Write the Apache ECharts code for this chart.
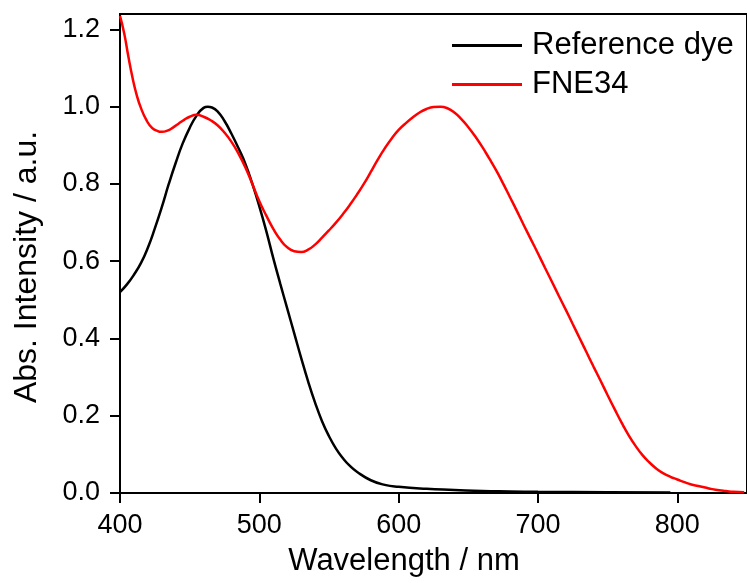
<!DOCTYPE html>
<html>
<head>
<meta charset="utf-8">
<script src="https://cdn.jsdelivr.net/npm/echarts@6/dist/echarts.min.js"></script>
<style>
html,body{margin:0;padding:0;background:#fff;}
#chart{width:747px;height:583px;}
</style>
</head>
<body>
<div id="chart"></div>
<script>
// Wavelength (nm) and normalized absorbance values
const refWavelength = [400,405,410,415,420,425,430,435,440,445,450,455,460,463,466,470,475,480,485,490,495,500,505,510,515,520,525,530,535,540,545,550,555,560,565,570,580,590,600,620,640,660,680,700,750,795];
const refAbs =        [0.52,0.54,0.565,0.595,0.635,0.685,0.74,0.80,0.855,0.905,0.945,0.977,0.997,1.0,0.998,0.988,0.963,0.93,0.893,0.852,0.80,0.742,0.678,0.608,0.542,0.478,0.414,0.35,0.289,0.234,0.186,0.147,0.115,0.09,0.07,0.055,0.033,0.021,0.016,0.011,0.008,0.005,0.004,0.003,0.002,0.001];

const fneWavelength = [400,403,406,409,412,415,419,423,427,430,434,438,442,446,450,455,460,465,470,475,480,485,490,495,500,505,510,515,520,525,530,535,540,545,550,555,560,565,570,575,580,585,590,595,600,605,610,615,620,625,630,635,640,645,650,655,660,665,670,675,680,685,690,695,700,705,710,715,720,725,730,735,740,745,750,755,760,765,770,775,780,785,790,795,800,805,810,815,820,825,830,835,840,848];
const fneAbs =        [1.235,1.19,1.13,1.075,1.03,0.997,0.965,0.945,0.937,0.935,0.938,0.946,0.956,0.966,0.974,0.979,0.974,0.965,0.952,0.933,0.909,0.879,0.843,0.80,0.755,0.718,0.684,0.656,0.636,0.626,0.624,0.63,0.643,0.661,0.68,0.70,0.722,0.746,0.772,0.80,0.831,0.863,0.892,0.918,0.94,0.957,0.972,0.985,0.994,0.999,1.0,0.996,0.985,0.968,0.947,0.923,0.896,0.866,0.835,0.801,0.765,0.729,0.692,0.656,0.62,0.583,0.547,0.51,0.474,0.437,0.40,0.363,0.326,0.29,0.253,0.217,0.182,0.15,0.122,0.098,0.079,0.063,0.051,0.042,0.035,0.028,0.022,0.018,0.014,0.01,0.007,0.005,0.003,0.002];

const xTicks = [400,500,600,700,800];
const yTicks = [0,0.2,0.4,0.6,0.8,1.0,1.2];
const seriesNames = ['Reference dye','FNE34'];

const FONT = '"Liberation Sans", Arial, sans-serif';
const chart = echarts.init(document.getElementById('chart'), null, {renderer:'canvas'});

const zip = (xs, ys) => xs.map((x,i)=>[x, ys[i]]);

chart.setOption({
  animation: false,
  backgroundColor: '#fff',
  grid: {left:120, right:-3, top:14, bottom:90, show:true, borderColor:'#000', borderWidth:2, backgroundColor:'transparent'},
  legend: {
    orient:'vertical', left:452, top:30, padding:0,
    icon:'rect', itemWidth:70, itemHeight:3, itemGap:8,
    textStyle:{fontFamily:FONT, fontSize:31, color:'#000', lineHeight:30, padding:[0,0,0,5]},
    data: seriesNames
  },
  xAxis: {
    type:'value', min:400, max:850,
    axisLine:{show:true, lineStyle:{color:'#000', width:2}},
    axisTick:{show:true, inside:false, length:10, lineStyle:{color:'#000', width:2}, customValues:xTicks},
    axisLabel:{fontFamily:FONT, fontSize:27, color:'#000', margin:19, customValues:xTicks},
    splitLine:{show:false}
  },
  yAxis: {
    type:'value', min:0, max:1.24,
    axisLine:{show:true, lineStyle:{color:'#000', width:2}},
    axisTick:{show:true, inside:false, length:10, lineStyle:{color:'#000', width:2}, customValues:yTicks},
    axisLabel:{fontFamily:FONT, fontSize:27, color:'#000', margin:20, customValues:yTicks, formatter:(v)=>v.toFixed(1)},
    splitLine:{show:false}
  },
  graphic: [
    {type:'text', x:404, y:561, style:{text:'Wavelength / nm', font:'31px "Liberation Sans", Arial, sans-serif', fill:'#000', textAlign:'center', textVerticalAlign:'middle'}},
    {type:'text', x:27, y:267, rotation:Math.PI/2, style:{text:'Abs. Intensity / a.u.', font:'32px "Liberation Sans", Arial, sans-serif', fill:'#000', textAlign:'center', textVerticalAlign:'middle'}}
  ],
  series: [
    {name:seriesNames[0], type:'line', data:zip(refWavelength, refAbs), smooth:0.5, showSymbol:false, symbol:'none', lineStyle:{color:'#000', width:2.5}, itemStyle:{color:'#000'}, clip:true},
    {name:seriesNames[1], type:'line', data:zip(fneWavelength, fneAbs), smooth:0.5, showSymbol:false, symbol:'none', lineStyle:{color:'#ff0000', width:2.5}, itemStyle:{color:'#ff0000'}, clip:true}
  ]
});
</script>
</body>
</html>
